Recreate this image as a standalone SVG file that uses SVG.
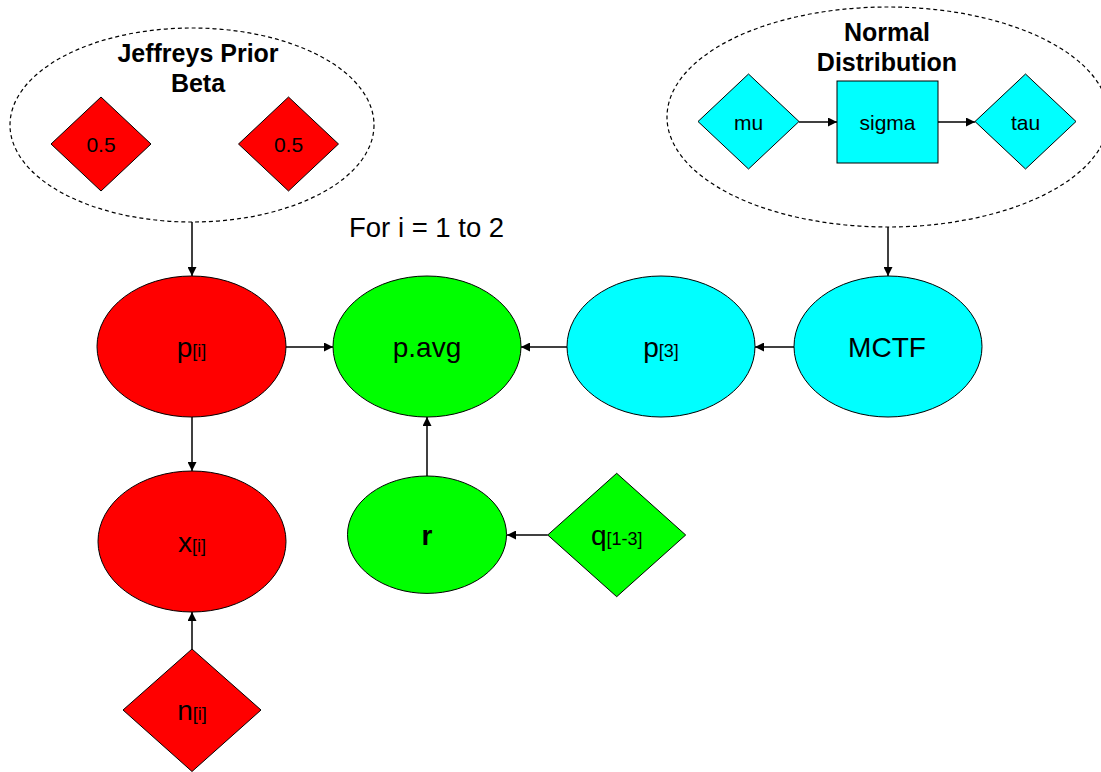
<svg xmlns="http://www.w3.org/2000/svg" width="1101" height="772" viewBox="0 0 1101 772">
<defs>
<style>
text{font-family:"Liberation Sans",Arial,sans-serif;fill:#000}
.grp{fill:none;stroke:#000;stroke-width:1.2;stroke-dasharray:4,3}
.red{fill:#FF0000;stroke:#000;stroke-width:1}
.grn{fill:#00FF00;stroke:#000;stroke-width:1}
.cyn{fill:#00FFFF;stroke:#000;stroke-width:1}
.big{font-size:28px}
.sub{font-size:18px}
.sm{font-size:21px}
.ttl{font-size:25px;font-weight:bold}
.edge{stroke:#000;stroke-width:1.5;fill:none;marker-end:url(#arr)}
</style>
<marker id="arr" viewBox="0 0 10 10" refX="10" refY="5" markerWidth="11" markerHeight="9" markerUnits="userSpaceOnUse" orient="auto">
<path d="M0,0 L10,5 L0,10 z" fill="#000"/>
</marker>
</defs>
<rect width="1101" height="772" fill="#fff"/>

<g id="jeffreys">
<ellipse class="grp" cx="192" cy="125" rx="182" ry="97"/>
<text class="ttl" x="198" y="62" text-anchor="middle">Jeffreys Prior</text>
<text class="ttl" x="198" y="92" text-anchor="middle">Beta</text>
</g>
<g id="a1">
<polygon class="red" points="101,97 151,144 101,191 51,144"/>
<text class="sm" x="101" y="152" text-anchor="middle">0.5</text>
</g>
<g id="a2">
<polygon class="red" points="288.5,97 338.5,144 288.5,191 238.5,144"/>
<text class="sm" x="288.5" y="152" text-anchor="middle">0.5</text>
</g>

<g id="normal">
<ellipse class="grp" cx="888" cy="117" rx="221" ry="110"/>
<text class="ttl" x="887" y="41" text-anchor="middle">Normal</text>
<text class="ttl" x="887" y="71" text-anchor="middle">Distribution</text>
</g>
<g id="mu">
<polygon class="cyn" points="748.5,74 799,121.5 748.5,169 698,121.5"/>
<text class="sm" x="748.5" y="129.5" text-anchor="middle">mu</text>
</g>
<g id="sigma">
<rect class="cyn" x="837" y="81" width="101" height="82"/>
<text class="sm" x="887.5" y="129.5" text-anchor="middle">sigma</text>
</g>
<g id="tau">
<polygon class="cyn" points="1025.5,74 1076,121.5 1025.5,169 975,121.5"/>
<text class="sm" x="1025.5" y="129.5" text-anchor="middle">tau</text>
</g>

<text id="loop" x="349" y="237" style="font-size:27.5px">For i = 1 to 2</text>

<g id="p_i">
<ellipse class="red" cx="191.5" cy="346.5" rx="94.5" ry="70.5"/>
<text class="big" x="191.5" y="357" text-anchor="middle">p<tspan class="sub">[i]</tspan></text>
</g>
<g id="pavg">
<ellipse class="grn" cx="427" cy="346.5" rx="94" ry="70.5"/>
<text class="big" x="427" y="357" text-anchor="middle">p.avg</text>
</g>
<g id="p3">
<ellipse class="cyn" cx="661" cy="346.5" rx="94" ry="70.5"/>
<text class="big" x="661" y="357" text-anchor="middle">p<tspan class="sub">[3]</tspan></text>
</g>
<g id="mctf">
<ellipse class="cyn" cx="888" cy="346.5" rx="94" ry="70.5"/>
<text class="big" x="887" y="357" text-anchor="middle">MCTF</text>
</g>
<g id="x_i">
<ellipse class="red" cx="192" cy="541.5" rx="94" ry="70.5"/>
<text class="big" x="192" y="552" text-anchor="middle">x<tspan class="sub">[i]</tspan></text>
</g>
<g id="r">
<ellipse class="grn" cx="427" cy="534.7" rx="79.5" ry="58.7"/>
<text class="big" x="427" y="545" text-anchor="middle" font-weight="bold">r</text>
</g>
<g id="q">
<polygon class="grn" points="616.7,473.3 685.7,535 616.7,596.7 547.7,535"/>
<text class="big" x="616.7" y="544.5" text-anchor="middle">q<tspan class="sub">[1-3]</tspan></text>
</g>
<g id="n_i">
<polygon class="red" points="192,649 261,710 192,771.5 123,710"/>
<text class="big" x="192" y="720" text-anchor="middle">n<tspan class="sub">[i]</tspan></text>
</g>

<g id="connectors">
<line class="edge" x1="192" y1="222" x2="192" y2="276"/>
<line class="edge" x1="888" y1="227" x2="888" y2="276"/>
<line class="edge" x1="286" y1="347" x2="333" y2="347"/>
<line class="edge" x1="567" y1="347" x2="521" y2="347"/>
<line class="edge" x1="794" y1="347" x2="755" y2="347"/>
<line class="edge" x1="192" y1="417" x2="192" y2="471"/>
<line class="edge" x1="427" y1="476" x2="427" y2="417"/>
<line class="edge" x1="547.7" y1="535" x2="507" y2="535"/>
<line class="edge" x1="192" y1="649" x2="192" y2="612"/>
<line class="edge" x1="799" y1="122" x2="837" y2="122"/>
<line class="edge" x1="938" y1="122" x2="975" y2="122"/>
</g>
</svg>
